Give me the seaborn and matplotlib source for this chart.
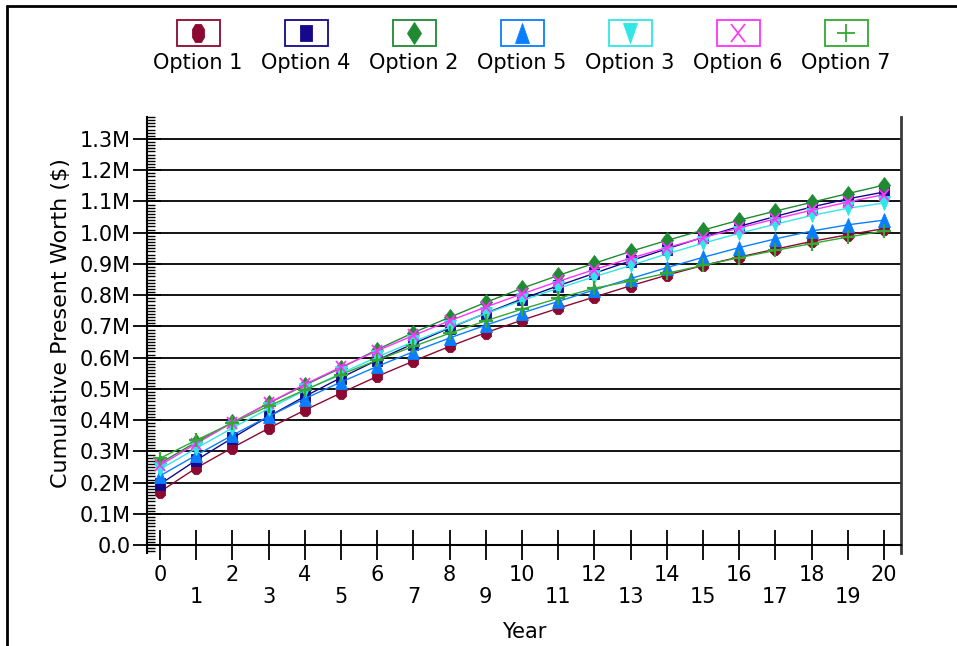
import matplotlib
matplotlib.use("Agg")
import matplotlib.pyplot as plt
import seaborn as sns
from matplotlib.markers import MarkerStyle
from matplotlib.transforms import Affine2D
from matplotlib.patches import Rectangle
from matplotlib.lines import Line2D
from matplotlib.ticker import MultipleLocator, FuncFormatter

# ---------------- data (values in millions of $) ----------------
years = list(range(21))
option_names = ["Option 1", "Option 4", "Option 2", "Option 5", "Option 3", "Option 6", "Option 7"]

option_1 = [0.171, 0.247, 0.312, 0.374, 0.432, 0.487, 0.540, 0.589, 0.636, 0.680, 0.720,
            0.758, 0.794, 0.830, 0.864, 0.895, 0.922, 0.947, 0.972, 0.993, 1.013]
option_4 = [0.195, 0.272, 0.343, 0.412, 0.476, 0.536, 0.592, 0.645, 0.695, 0.742, 0.788,
            0.830, 0.870, 0.910, 0.948, 0.985, 1.020, 1.052, 1.082, 1.108, 1.130]
option_2 = [0.262, 0.330, 0.393, 0.454, 0.512, 0.567, 0.626, 0.680, 0.729, 0.777, 0.822,
            0.863, 0.902, 0.940, 0.975, 1.008, 1.040, 1.069, 1.097, 1.125, 1.152]
option_5 = [0.222, 0.288, 0.352, 0.412, 0.469, 0.522, 0.572, 0.619, 0.663, 0.704, 0.743,
            0.780, 0.817, 0.853, 0.888, 0.921, 0.952, 0.980, 1.005, 1.025, 1.040]
option_3 = [0.243, 0.310, 0.375, 0.437, 0.495, 0.550, 0.602, 0.651, 0.697, 0.741, 0.783,
            0.822, 0.859, 0.895, 0.932, 0.966, 0.998, 1.027, 1.055, 1.078, 1.095]
option_6 = [0.256, 0.325, 0.392, 0.455, 0.515, 0.570, 0.622, 0.671, 0.718, 0.762, 0.804,
            0.844, 0.882, 0.918, 0.952, 0.984, 1.015, 1.044, 1.072, 1.098, 1.122]
option_7 = [0.278, 0.336, 0.391, 0.445, 0.497, 0.546, 0.592, 0.636, 0.678, 0.718, 0.755,
            0.790, 0.822, 0.845, 0.870, 0.895, 0.920, 0.943, 0.965, 0.986, 1.005]

series = [option_1, option_4, option_2, option_5, option_3, option_6, option_7]
colors = ["#8C0A32", "#16088C", "#1E8A32", "#0A7EFF", "#30E6E6", "#FF33FF", "#34A834"]

y_ticks = [i / 10 for i in range(14)]

# ---------------- styling ----------------
sns.set_theme(style="white")
plt.rcParams['font.family'] = ['DejaVu Sans']
plt.rcParams['text.color'] = 'black'
plt.rcParams['axes.labelcolor'] = 'black'
plt.rcParams['xtick.color'] = 'black'
plt.rcParams['ytick.color'] = 'black'

W_PX, H_PX = 957, 646
fig = plt.figure(figsize=(W_PX / 100, H_PX / 100), dpi=100)

# axes placement (pixel based)
ax_left, ax_right, ax_top, ax_bottom = 147, 901, 117, 553
ax = fig.add_axes([ax_left / W_PX, 1 - ax_bottom / H_PX,
                   (ax_right - ax_left) / W_PX, (ax_bottom - ax_top) / H_PX])


def mstyle(base, sx):
    return MarkerStyle(base, transform=Affine2D().scale(sx, 1.0))


marker_specs = [
    (lambda: mstyle('8', 0.78), 9.5, 0.6),
    (lambda: mstyle('s', 0.82), 8.5, 0.6),
    (lambda: mstyle('D', 0.72), 8.2, 0.6),
    (lambda: mstyle('^', 0.85), 10.0, 0.6),
    (lambda: mstyle('v', 0.85), 10.0, 0.6),
    (lambda: mstyle('x', 0.85), 9.0, 1.3),
    (lambda: mstyle('+', 1.0), 10.5, 1.6),
]

for name, vals, col, (mk, ms, mew) in zip(option_names, series, colors, marker_specs):
    sns.lineplot(x=years, y=vals, ax=ax, color=col, lw=1.0, marker=mk(),
                 markersize=ms, markeredgecolor=col, markerfacecolor=col,
                 markeredgewidth=mew, errorbar=None, legend=False)

ax.set_xlim(-0.36, 20.47)
ax.set_ylim(-0.025, 1.37)

# axes frame
ax.spines['top'].set_visible(False)
ax.spines['left'].set_color('black')
ax.spines['left'].set_linewidth(1.5)
ax.spines['right'].set_color('#3a3a3a')
ax.spines['right'].set_linewidth(2.0)
ax.spines['bottom'].set_color('black')
ax.spines['bottom'].set_linewidth(1.5)
ax.spines['bottom'].set_position(('data', 0))

# y axis
ax.set_yticks(y_ticks)
ax.yaxis.set_minor_locator(MultipleLocator(0.01))
ax.yaxis.set_major_formatter(FuncFormatter(lambda v, p: "0.0" if abs(v) < 1e-9 else f"{v:.1f}M"))
ax.tick_params(axis='y', which='major', direction='inout', length=20, width=1.3,
               color='black', labelcolor='black', labelsize=15, pad=2, left=True, right=False)
ax.tick_params(axis='y', which='minor', direction='in', length=6, width=1.0,
               color='black', left=True, right=False)
ax.yaxis.grid(True, which='major', color='black', lw=1.3)
ax.xaxis.grid(False)
ax.set_axisbelow(True)

# x axis
ax.set_xticks(years, labels=[str(y) if y % 2 == 0 else "\n" + str(y) for y in years])
ax.tick_params(axis='x', which='major', direction='inout', length=22, width=1.3,
               color='black', labelcolor='black', labelsize=15, pad=3, bottom=True, top=False)
for lbl in ax.get_xticklabels():
    lbl.set_linespacing(1.15)

ax.set_xlabel("Year", fontsize=15, color='black')
ax.xaxis.set_label_coords(0.5, (ax_bottom - 622) / (ax_bottom - ax_top))
ax.set_ylabel("Cumulative Present Worth ($)", fontsize=16, color='black')
ax.yaxis.set_label_coords((71 - ax_left) / (ax_right - ax_left), (ax_bottom - 323) / (ax_bottom - ax_top))

# ---------------- legend (boxed markers with labels below) ----------------
legend_specs = [
    (lambda: mstyle('8', 0.72), 14.0, 0.6),
    (lambda: mstyle('s', 0.78), 11.5, 0.6),
    (lambda: mstyle('D', 0.62), 11.5, 0.6),
    (lambda: mstyle('^', 0.7), 14.0, 0.6),
    (lambda: mstyle('v', 0.7), 14.0, 0.6),
    (lambda: mstyle('x', 0.75), 12.5, 1.2),
    (lambda: mstyle('+', 1.0), 13.0, 1.3),
]
box_w, box_h = 43, 26
for i, (name, col, (mk, ms, mew)) in enumerate(zip(option_names, colors, legend_specs)):
    cx = 198 + i * 108
    cy = 33
    fig.add_artist(Rectangle(((cx - box_w / 2) / W_PX, 1 - (cy + box_h / 2) / H_PX),
                             box_w / W_PX, box_h / H_PX, transform=fig.transFigure,
                             fill=False, edgecolor=col, lw=1.3))
    fig.add_artist(Line2D([cx / W_PX], [1 - cy / H_PX], transform=fig.transFigure,
                          marker=mk(), markersize=ms, color=col, markeredgecolor=col,
                          markeredgewidth=mew, linestyle='none'))
    fig.text(cx / W_PX, 1 - 63 / H_PX, name, ha='center', va='center', fontsize=15, color='black')

# outer border (top and left only)
fig.add_artist(Line2D([7 / W_PX, 1.0], [1 - 6 / H_PX, 1 - 6 / H_PX], transform=fig.transFigure,
                      color='black', lw=2.0))
fig.add_artist(Line2D([7 / W_PX, 7 / W_PX], [0.0, 1 - 6 / H_PX], transform=fig.transFigure,
                      color='black', lw=2.0))

fig.savefig("out.png", dpi=100)
